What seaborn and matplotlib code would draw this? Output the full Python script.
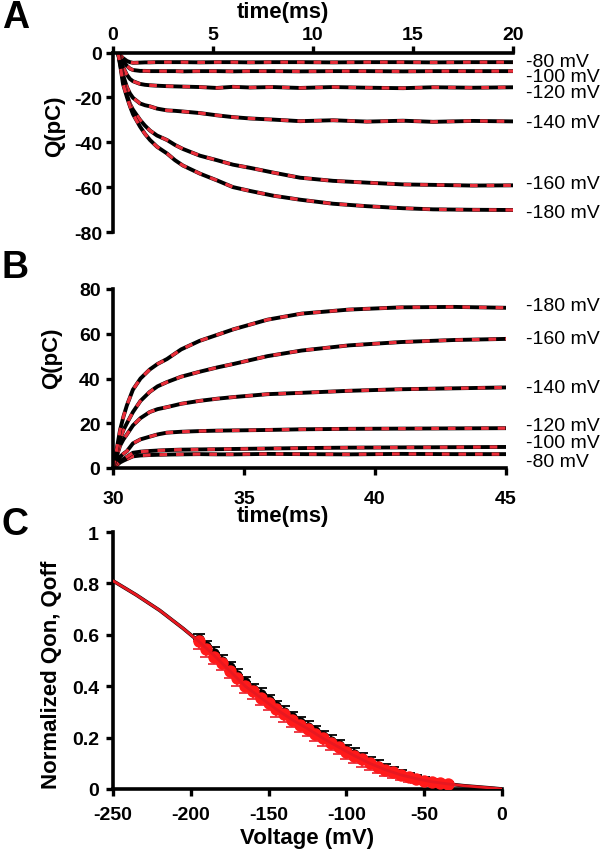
import numpy as np
import pandas as pd
import seaborn as sns
import matplotlib.pyplot as plt

# ---- values ----
labels_mv = ['-80 mV', '-100 mV', '-120 mV', '-140 mV', '-160 mV', '-180 mV']

# A: on-charge (pC) vs time (ms)
t_on = [0.25, 0.4, 0.5, 0.7, 0.85, 1.0, 1.35, 1.6, 1.85, 2.2, 2.7, 3.1, 3.5, 4.35, 5.2,
        6.0, 6.85, 8.0, 9.35, 11.0, 12.7, 14.5, 16.0, 18.0, 20.0]
q_on_80 = [0, -1.6, -2.5, -3.8, -4.3, -4.6, -4.5, -4.4, -4.4, -4.3, -4.3, -4.3, -4.3, -4.4, -4.3,
           -4.3, -4.4, -4.3, -4.3, -4.4, -4.3, -4.3, -4.4, -4.3, -4.3]
q_on_100 = [0, -2.5, -3.8, -6.0, -7.2, -7.8, -8.2, -8.2, -8.3, -8.3, -8.3, -8.3, -8.4, -8.3, -8.3,
            -8.4, -8.3, -8.3, -8.4, -8.3, -8.3, -8.4, -8.3, -8.3, -8.3]
q_on_120 = [0, -4.0, -6.5, -10.0, -11.8, -12.8, -14.0, -14.4, -14.6, -14.8, -15.0, -15.1, -15.2, -15.4, -15.8,
            -15.3, -15.6, -15.4, -15.8, -15.4, -15.7, -15.9, -15.5, -15.7, -15.5]
q_on_140 = [0, -6.0, -10.0, -15.5, -18.3, -20.2, -22.7, -23.5, -24.0, -25.0, -25.8, -26.0, -26.3, -27.0, -28.0,
            -28.8, -29.4, -29.9, -30.6, -30.2, -30.8, -30.4, -30.9, -30.5, -30.7]
q_on_160 = [0, -7.0, -12.0, -19.0, -23.0, -25.5, -30.0, -32.6, -34.8, -37.0, -39.0, -41.2, -43.0, -46.0, -48.0,
            -50.0, -51.4, -53.5, -55.8, -57.2, -58.0, -58.8, -59.0, -59.3, -59.2]
q_on_180 = [0, -8.0, -14.0, -20.0, -24.0, -27.5, -33.0, -36.3, -39.0, -42.0, -45.0, -48.0, -50.4, -54.0, -57.0,
            -60.0, -61.7, -63.8, -65.6, -67.4, -68.5, -69.4, -69.9, -70.1, -70.2]

# B: off-charge (pC) vs time (ms)
t_off = [30.0, 30.15, 30.27, 30.4, 30.53, 30.76, 31.05, 31.4, 31.7, 32.06, 32.6, 33.3, 34.0, 34.6,
         35.9, 37.2, 39.0, 41.0, 43.0, 45.0]
q_off_80 = [0, 1.3, 2.5, 3.3, 4.0, 5.2, 5.6, 5.8, 5.9, 6.0, 6.1, 6.2, 6.1, 6.1,
            6.3, 6.2, 6.1, 6.3, 6.2, 6.2]
q_off_100 = [0, 1.6, 3.0, 4.0, 5.0, 6.8, 7.3, 7.6, 7.8, 8.0, 8.2, 8.3, 8.4, 8.5,
             8.7, 8.9, 9.1, 9.2, 9.3, 9.4]
q_off_120 = [0, 2.8, 5.0, 6.4, 7.5, 11.0, 12.8, 14.0, 15.0, 15.8, 16.2, 16.5, 16.7, 16.8,
             17.0, 17.3, 17.5, 17.6, 17.7, 17.8]
q_off_140 = [0, 5.5, 10.0, 12.8, 15.0, 19.0, 22.3, 25.0, 26.3, 27.2, 28.7, 30.0, 31.0, 31.7,
             33.0, 33.6, 34.5, 35.2, 35.6, 36.0]
q_off_160 = [0, 7.0, 13.0, 17.0, 20.0, 25.0, 30.0, 34.0, 36.5, 38.4, 40.8, 43.0, 45.0, 46.5,
             50.0, 52.5, 54.8, 56.3, 57.2, 57.7]
q_off_180 = [0, 9.0, 17.0, 23.0, 28.0, 35.0, 40.0, 44.0, 46.5, 48.7, 53.0, 56.8, 59.6, 62.0,
             66.3, 69.0, 70.8, 71.8, 72.0, 71.6]

# C: normalized charge vs voltage
volt = [-195, -190, -185, -180, -175, -170, -165, -160, -155, -150, -145, -140, -135,
        -130, -125, -120, -115, -110, -105, -100, -95, -90, -85, -80, -75, -70, -65,
        -60, -55, -50, -45, -40, -35]
qoff_norm = [0.575, 0.545, 0.515, 0.49, 0.46, 0.43, 0.40, 0.38, 0.355, 0.335, 0.31, 0.29, 0.27,
             0.25, 0.235, 0.215, 0.197, 0.18, 0.163, 0.145, 0.13, 0.115, 0.10, 0.087, 0.075, 0.065, 0.055,
             0.047, 0.04, 0.033, 0.028, 0.024, 0.02]
qon_norm = [0.585, 0.555, 0.53, 0.50, 0.475, 0.445, 0.415, 0.39, 0.37, 0.345, 0.322, 0.30, 0.28,
            0.26, 0.243, 0.225, 0.205, 0.188, 0.17, 0.152, 0.137, 0.12, 0.105, 0.09, 0.078, 0.066, 0.056,
            0.047, 0.04, 0.033, 0.027, 0.022, 0.018]
qoff_err = [0.03, 0.03, 0.03, 0.028, 0.03, 0.03, 0.028, 0.03, 0.03, 0.028, 0.03, 0.03, 0.028,
            0.03, 0.03, 0.028, 0.03, 0.03, 0.028, 0.03, 0.03, 0.028, 0.025, 0.025, 0.025, 0.022, 0.02,
            0.02, 0.018, 0.015, 0.012, 0.01, 0.01]
qon_err = [0.02, 0.02, 0.022, 0.02, 0.02, 0.022, 0.02, 0.02, 0.022, 0.02, 0.02, 0.022, 0.02,
           0.02, 0.022, 0.02, 0.02, 0.022, 0.02, 0.02, 0.022, 0.02, 0.02, 0.022, 0.02, 0.02, 0.018,
           0.016, 0.015, 0.014, 0.012, 0.01, 0.01]
fit_v = [-250, -235, -220, -205, -195, -185, -175, -165, -155, -145, -135, -125, -115,
         -105, -95, -85, -75, -65, -55, -45, -35, -25, -15, -5, 0]
fit_q = [0.81, 0.755, 0.695, 0.625, 0.575, 0.52, 0.46, 0.40, 0.355, 0.31, 0.27, 0.235, 0.197,
         0.163, 0.13, 0.10, 0.075, 0.055, 0.04, 0.028, 0.02, 0.013, 0.008, 0.003, 0.0]

on_traces = [q_on_80, q_on_100, q_on_120, q_on_140, q_on_160, q_on_180]
off_traces = [q_off_80, q_off_100, q_off_120, q_off_140, q_off_160, q_off_180]

# label heights (layout only)
lab_y_a = [-3.8, -10.9, -18.0, -31.0, -58.2, -71.1]
lab_y_b = [3.1, 11.6, 19.2, 36.2, 57.7, 72.8]

sns.set_style('ticks')
plt.rcParams['font.family'] = ['Liberation Sans', 'DejaVu Sans']
plt.rcParams['axes.unicode_minus'] = False
for key in ['text.color', 'axes.labelcolor', 'xtick.color', 'ytick.color', 'axes.edgecolor']:
    plt.rcParams[key] = 'black'

RED = '#ea2e3a'
W, H = 601, 853
fig = plt.figure(figsize=(W / 100, H / 100), dpi=100)


def style(ax, pad_x, pad_y):
    for s in ax.spines.values():
        s.set_linewidth(2.6)
    ax.tick_params(width=2.4, length=5, labelsize=14, direction='out')
    ax.tick_params(axis='x', pad=pad_x)
    ax.tick_params(axis='y', pad=pad_y)
    for lb in ax.get_xticklabels() + ax.get_yticklabels():
        lb.set_fontweight('bold')
    ax.xaxis.label.set_va('center')
    ax.yaxis.label.set_va('center')


# ---------- A ----------
ax_a = fig.add_axes([113 / W, 1 - 233 / H, 400 / W, 179.5 / H])
for q in on_traces:
    sns.lineplot(x=t_on, y=q, ax=ax_a, color='black', lw=2.8, sort=False)
    sns.lineplot(x=t_on, y=q, ax=ax_a, color=RED, lw=2.3, sort=False,
                 linestyle=(0, (2.4, 2.8)))
ax_a.set_xlim(0, 20)
ax_a.set_ylim(-80, 0)
ax_a.xaxis.tick_top()
ax_a.xaxis.set_label_position('top')
ax_a.spines['bottom'].set_visible(False)
ax_a.spines['right'].set_visible(False)
ax_a.set_xticks([0, 5, 10, 15, 20])
ax_a.set_yticks([0, -20, -40, -60, -80])
ax_a.set_xlabel('time(ms)', fontsize=16, fontweight='bold')
ax_a.set_ylabel('Q(pC)', fontsize=16, fontweight='bold')
style(ax_a, 2, 3)
ax_a.xaxis.set_label_coords(0.425, 1.226)
ax_a.yaxis.set_label_coords(-0.145, 0.596)
for lab, y in zip(labels_mv, lab_y_a):
    ax_a.text(20.65, y, lab, fontsize=14, va='center', ha='left', clip_on=False)

# ---------- B ----------
ax_b = fig.add_axes([113 / W, 1 - 469 / H, 393 / W, 179 / H])
for q in off_traces:
    sns.lineplot(x=t_off, y=q, ax=ax_b, color='black', lw=2.8, sort=False)
    sns.lineplot(x=t_off, y=q, ax=ax_b, color=RED, lw=2.3, sort=False,
                 linestyle=(0, (2.4, 2.8)))
ax_b.set_xlim(30, 45)
ax_b.set_ylim(0, 80)
ax_b.spines['top'].set_visible(False)
ax_b.spines['right'].set_visible(False)
ax_b.set_xticks([30, 35, 40, 45])
ax_b.set_yticks([0, 20, 40, 60, 80])
ax_b.set_xlabel('time(ms)', fontsize=16, fontweight='bold')
ax_b.set_ylabel('Q(pC)', fontsize=16, fontweight='bold')
style(ax_b, 11, 4)
ax_b.xaxis.set_label_coords(0.433, -0.268)
ax_b.yaxis.set_label_coords(-0.155, 0.62)
for lab, y in zip(labels_mv, lab_y_b):
    ax_b.text(45.76, y, lab, fontsize=14, va='center', ha='left', clip_on=False)

# ---------- C ----------
ax_c = fig.add_axes([113 / W, 1 - 790 / H, 389 / W, 257 / H])
n = len(volt)
sns.lineplot(x=fit_v, y=fit_q, ax=ax_c, color='black', lw=2.6, sort=False)
ax_c.errorbar(volt, qon_norm, yerr=[[0] * n, qon_err], fmt='none', ecolor='black',
              elinewidth=1.3, capsize=4, capthick=1.3, zorder=3)
sns.scatterplot(x=volt, y=qon_norm, ax=ax_c, color='black', s=55, marker='o',
                linewidth=0, zorder=4)
ax_c.errorbar(volt, qoff_norm, yerr=[qoff_err, [0] * n], fmt='none', ecolor=RED,
              elinewidth=1.3, capsize=4, capthick=1.3, zorder=5)
sns.scatterplot(x=volt, y=qoff_norm, ax=ax_c, color='#ff1a1a', s=80, marker='o',
                linewidth=0, zorder=6)
sns.lineplot(x=fit_v, y=fit_q, ax=ax_c, color='#e81820', lw=2.0, sort=False, zorder=7)
ax_c.set_xlim(-250, 0)
ax_c.set_ylim(0, 1)
ax_c.spines['top'].set_visible(False)
ax_c.spines['right'].set_visible(False)
ax_c.set_xticks([-250, -200, -150, -100, -50, 0])
ax_c.set_yticks([0, 0.2, 0.4, 0.6, 0.8, 1])
ax_c.set_yticklabels(['0', '0.2', '0.4', '0.6', '0.8', '1'])
ax_c.set_xlabel('Voltage (mV)', fontsize=16, fontweight='bold')
ax_c.set_ylabel('Normalized Qon, Qoff', fontsize=16, fontweight='bold')
style(ax_c, 7, 5)
ax_c.xaxis.set_label_coords(0.50, -0.187)
ax_c.yaxis.set_label_coords(-0.157, 0.45)

# panel letters
for letter, cx, cy in [('A', 16, 18), ('B', 15, 268), ('C', 15, 525)]:
    fig.text(cx / W, 1 - cy / H, letter, fontsize=27, fontweight='bold',
             ha='center', va='center')

fig.savefig('out.png', dpi=100)
